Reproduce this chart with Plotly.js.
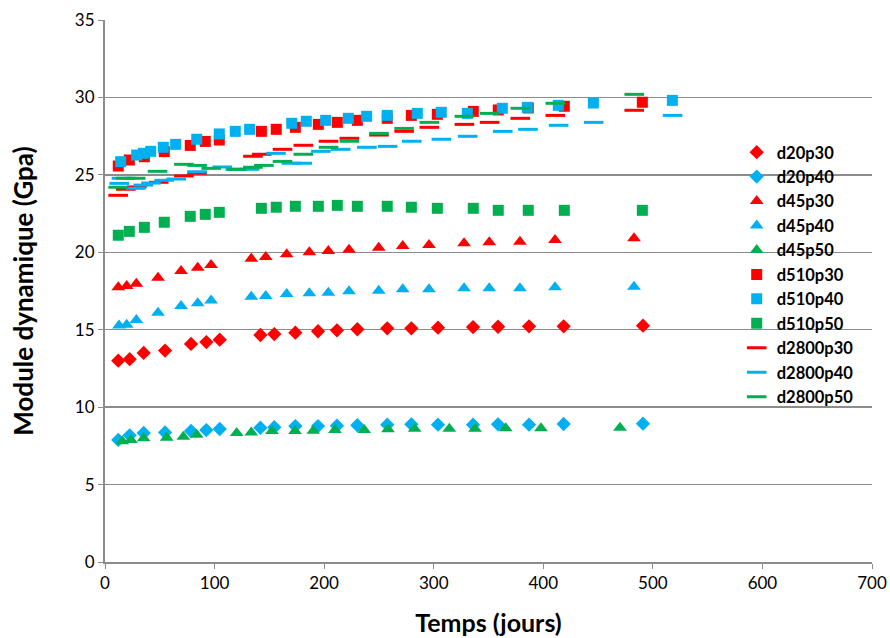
<!DOCTYPE html>
<html><head><meta charset="utf-8">
<script src="https://cdn.plot.ly/plotly-3.0.1.min.js"></script>
<style>html,body{margin:0;padding:0;background:#fff}#chart{width:890px;height:638px}</style>
</head><body><div id="chart"></div>
<script>
// d20 series (diamonds)
const d20p30_x = [12.1,22.5,35.3,54.8,78.5,92.5,104.7,141.8,154.5,173.7,194.4,211.7,230.3,257.6,279.6,303.9,335.9,358.7,387,418.6,491];
const d20p30_y = [13.0,13.1,13.5,13.65,14.08,14.2,14.36,14.66,14.72,14.81,14.9,14.96,15.03,15.09,15.09,15.13,15.17,15.19,15.22,15.22,15.26];
const d20p40_x = [12.1,22.5,35.3,54.8,78.5,92.5,104.7,141.8,154.5,173.7,194.4,211.7,230.3,257.6,279.6,303.9,335.9,358.7,387,418.6,491];
const d20p40_y = [7.88,8.18,8.33,8.37,8.46,8.52,8.59,8.67,8.70,8.78,8.78,8.80,8.83,8.87,8.89,8.87,8.87,8.89,8.87,8.91,8.93];
// d45 series (triangles)
const d45p30_x = [12.1,19.8,28.6,48.4,69.4,84.6,96.8,133.5,146.7,165.8,186.5,203.8,222.7,249.8,271.7,295.7,327.7,350.7,378.7,410.7,482.8];
const d45p30_y = [17.74,17.82,17.97,18.36,18.79,19.0,19.18,19.59,19.70,19.87,20.0,20.08,20.17,20.30,20.41,20.47,20.58,20.64,20.68,20.79,20.90];
const d45p40_x = [12.8,19.8,28.6,48.4,69.4,84.6,96.8,133.5,146.7,165.8,186.5,203.8,222.7,249.8,271.7,295.7,327.7,350.7,378.7,410.7,482.8];
const d45p40_y = [15.28,15.32,15.63,16.10,16.53,16.71,16.88,17.13,17.18,17.31,17.35,17.39,17.48,17.52,17.61,17.61,17.67,17.67,17.67,17.74,17.78];
const d45p50_x = [15.8,23.7,35.3,56.3,71.5,83.7,120.2,133.5,152.4,173.4,190.1,209.9,236.6,258.3,282.6,314.2,337.7,365.7,397.9,470];
const d45p50_y = [7.79,7.88,7.99,8.03,8.09,8.22,8.33,8.37,8.46,8.46,8.48,8.52,8.52,8.57,8.61,8.61,8.61,8.63,8.63,8.67];
// d510 series (squares)
const d510p30_x = [12.1,22.2,35.9,54.1,77.8,91.5,104.3,142.7,156.3,173.7,194.7,212,230.3,257.6,279.6,303.3,336.1,358.9,386.3,419.2,490.4];
const d510p30_y = [25.57,25.96,26.17,26.50,26.90,27.16,27.25,27.81,27.94,28.07,28.26,28.39,28.52,28.65,28.84,28.91,29.10,29.19,29.32,29.43,29.69];
const d510p40_x = [14.3,28.9,35,41.7,53.2,64.5,83.7,104.3,118.9,132,170.4,183.7,201.4,222.1,238.8,257.6,285,306.9,330.7,362.6,385.4,413.7,445.7,517.8];
const d510p40_y = [25.85,26.28,26.39,26.52,26.78,26.97,27.30,27.64,27.81,27.94,28.33,28.46,28.52,28.65,28.78,28.84,28.97,29.04,28.97,29.30,29.36,29.49,29.64,29.81];
const d510p50_x = [12.1,22.2,35.9,54.1,77.8,91.5,104.3,142.7,156.3,173.7,194.7,212,230.3,257.6,279.6,303.3,336.1,358.9,386.3,419.2,490.4];
const d510p50_y = [21.10,21.35,21.61,21.94,22.32,22.45,22.58,22.84,22.91,22.97,22.97,23.03,22.97,22.97,22.91,22.84,22.84,22.71,22.71,22.71,22.71];
// d2800 series (dashes)
const d2800p30_x = [12,19,29,49,72,84,135,143,162,181,204,223,250,273,296,328,351,379,411,483];
const d2800p30_y = [23.68,24.07,24.22,24.52,24.93,25.1,26.2,26.33,26.65,26.91,27.17,27.36,27.57,27.81,28.07,28.26,28.39,28.65,28.84,29.17];
const d2800p40_x = [13,15,28,35,42,54,65,84,107,119,132,156,170,180,197,215,239,258,280,307,331,363,386,414,446,518];
const d2800p40_y = [24.45,24.78,24.13,24.34,24.47,24.65,24.73,25.2,25.51,25.36,25.36,26.39,25.75,25.75,26.52,26.65,26.78,26.84,27.17,27.3,27.49,27.81,27.94,28.2,28.39,28.84];
const d2800p50_x = [12,19,28,48,72,84,97,120,135,145,162,181,204,223,250,273,296,328,351,379,411,483];
const d2800p50_y = [24.2,24.78,24.78,25.23,25.68,25.61,25.42,25.36,25.49,25.61,25.87,26.33,26.78,27.17,27.68,28.0,28.39,28.78,28.97,29.3,29.62,30.2];

const RED = '#ff0000', BLUE = '#00b0f0', GREEN = '#00b050';

function pts(name, x, y, color, symbol, size) {
  return {type:'scatter', mode:'markers', name:name, x:x, y:y, legendgroup:name,
    marker:{color:color, symbol:symbol, size:size, line:{width:0}}, cliponaxis:false};
}
function dash(name, x, y, color) {
  return {type:'scatter', mode:'markers', name:name, x:x, y:y, legendgroup:name,
    marker:{color:color, symbol:'line-ew', size:14, line:{width:3, color:color}}, cliponaxis:false};
}

const data = [
  pts('d20p30', d20p30_x, d20p30_y, RED, 'diamond', 11),
  pts('d20p40', d20p40_x, d20p40_y, BLUE, 'diamond', 11),
  pts('d45p30', d45p30_x, d45p30_y, RED, 'triangle-up', 12),
  pts('d45p40', d45p40_x, d45p40_y, BLUE, 'triangle-up', 12),
  pts('d45p50', d45p50_x, d45p50_y, GREEN, 'triangle-up', 12),
  pts('d510p30', d510p30_x, d510p30_y, RED, 'square', 11),
  pts('d510p40', d510p40_x, d510p40_y, BLUE, 'square', 11),
  pts('d510p50', d510p50_x, d510p50_y, GREEN, 'square', 11),
  dash('d2800p30', d2800p30_x, d2800p30_y, RED),
  dash('d2800p40', d2800p40_x, d2800p40_y, BLUE),
  dash('d2800p50', d2800p50_x, d2800p50_y, GREEN)
];

const layout = {
  width:890, height:638,
  margin:{l:105, r:18, t:20, b:76},
  paper_bgcolor:'#ffffff', plot_bgcolor:'#ffffff',
  font:{family:'Lato, "Open Sans", sans-serif', color:'#000', size:17},
  showlegend:true,
  legend:{x:0.8236, y:0.788, xanchor:'left', yanchor:'top', bgcolor:'rgba(0,0,0,0)',
    font:{size:16.5, weight:'bold', family:'Lato, sans-serif'}, traceorder:'grouped', tracegroupgap:0,
    itemwidth:30},
  xaxis:{range:[0,700], dtick:100, tick0:0, showgrid:false, zeroline:false,
    showline:true, linecolor:'#8c8c8c', linewidth:2, ticks:'outside', ticklen:5, tickcolor:'#8c8c8c',
    tickfont:{size:17}, title:{text:'Temps (jours)', font:{size:25, weight:'bold'}, standoff:22}},
  yaxis:{range:[0,35], dtick:5, tick0:0, showgrid:true, gridcolor:'#8c8c8c', gridwidth:1.5, zeroline:false,
    showline:true, linecolor:'#8c8c8c', linewidth:2, ticks:'outside', ticklen:5, tickcolor:'#8c8c8c',
    tickfont:{size:17}, title:{text:'Module dynamique (Gpa)', font:{size:26, weight:'bold'}, standoff:34}}
};
Plotly.newPlot('chart', data, layout, {displayModeBar:false, staticPlot:true});
</script></body></html>
